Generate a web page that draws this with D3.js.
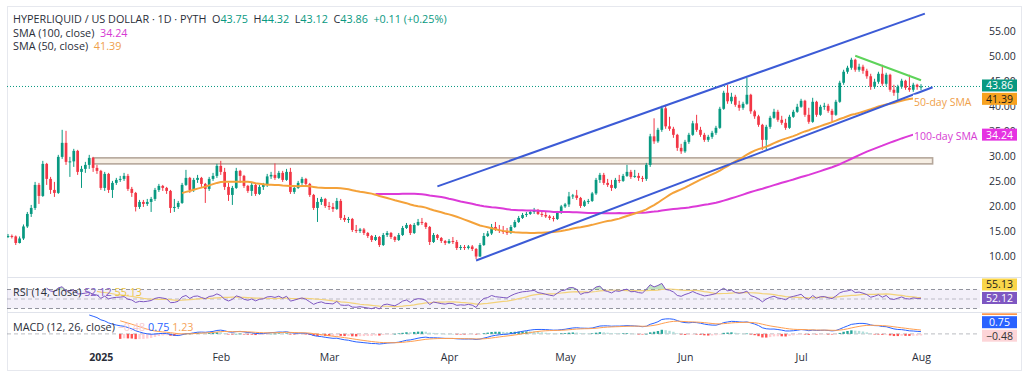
<!DOCTYPE html>
<html><head><meta charset="utf-8">
<script src="https://cdn.jsdelivr.net/npm/d3@7"></script>
<style>body{margin:0;background:#fff;} svg{display:block;font-family:"Open Sans",sans-serif;}</style>
</head><body><svg id="c" width="1024" height="375"></svg>
<script>
// ---------------- DATA ----------------
const startDate = "2024-12-04";   // first bar (first 4 bars are left of the view)
const viewStart = "2024-12-08";
const viewEnd = "2025-08-01";
const firstOpen = 12.9;
const closes = [
13.3,14.2,13.6,13.9,
14.0,13.9,12.6,13.5,15.9,18.4,19.6,24.2,22.0,28.4,
25.4,23.2,22.6,29.8,32.6,28.8,28.9,31.0,26.8,27.4,
28.2,29.6,27.6,27.0,23.6,26.4,23.2,24.6,25.2,25.4,
26.0,23.4,22.6,19.8,20.8,20.4,20.8,21.4,23.2,24.0,
23.6,23.0,19.6,19.8,20.6,24.2,25.6,23.2,25.2,25.6,
24.4,23.4,25.4,26.0,28.0,26.8,23.8,22.2,23.6,27.0,
26.0,24.0,23.0,24.2,22.4,23.8,24.2,25.9,26.2,25.6,
26.6,25.2,26.8,22.8,23.6,24.6,25.4,24.4,22.2,19.6,
20.8,21.4,20.0,19.8,19.4,21.0,17.6,17.2,17.4,15.2,
15.0,15.3,14.6,14.0,13.2,13.8,12.2,14.2,14.6,13.8,
13.2,14.2,15.6,16.2,14.6,16.2,16.8,16.6,15.8,12.8,
14.2,13.6,13.0,12.6,13.0,12.8,11.6,11.8,11.6,11.9,
11.4,9.9,12.2,14.0,14.5,15.8,15.2,15.0,14.8,14.6,
15.8,16.8,17.6,18.2,18.4,18.8,19.1,18.4,18.2,17.9,
17.6,17.4,18.6,19.9,20.3,21.9,22.1,21.6,20.0,20.9,
21.0,22.5,25.2,26.2,24.6,24.2,23.6,25.2,25.0,26.0,
26.8,25.8,26.0,25.6,25.4,28.2,33.9,32.9,35.2,39.5,
35.9,35.4,34.2,31.6,30.9,32.8,34.2,36.5,35.2,34.2,
33.2,33.8,34.6,35.6,39.4,42.6,40.9,41.8,40.2,39.6,
40.4,42.2,38.9,37.9,36.2,33.2,35.8,37.6,38.8,37.2,
36.6,35.6,37.8,38.8,39.8,41.0,38.2,36.8,40.8,38.2,
39.8,40.0,39.0,38.2,40.8,44.6,46.8,47.6,49.2,47.2,
47.8,47.0,45.9,43.8,44.8,46.4,44.4,46.2,43.2,42.6,
43.8,45.0,43.6,43.2,44.2,43.75,43.86];
const highs = [
14.0,14.8,14.4,14.3,
14.4,14.3,14.1,13.9,16.3,18.8,20.2,24.8,24.6,29.0,
28.6,25.8,24.8,30.2,35.2,35.0,29.8,31.4,31.2,28.0,
28.8,30.2,29.8,28.2,27.2,26.8,26.6,25.0,25.6,26.0,
26.6,26.4,23.8,22.8,21.2,21.2,21.4,21.8,23.6,24.4,
24.2,23.8,23.2,21.4,21.0,24.6,27.2,25.8,25.6,26.2,
25.8,24.6,25.8,26.6,28.4,29.0,27.6,24.6,24.0,27.6,
27.2,26.2,24.2,24.6,24.4,24.2,24.6,26.4,26.8,28.5,
27.0,27.0,27.4,27.6,24.0,25.0,25.8,25.6,24.6,22.4,
21.6,21.8,21.6,20.8,20.6,21.6,21.4,18.2,17.8,17.6,
16.2,15.6,15.6,14.8,14.2,14.2,14.0,14.6,15.0,14.8,
14.0,14.6,16.0,16.6,16.4,16.6,17.4,17.6,16.8,16.0,
14.6,14.4,13.8,13.2,13.4,13.8,13.2,12.2,12.2,12.2,
12.2,11.6,12.6,14.6,15.0,16.4,16.8,16.2,16.0,15.6,
16.2,17.2,18.0,18.6,18.8,19.2,19.6,19.4,18.9,18.8,
18.2,18.0,19.0,20.2,20.6,22.8,22.4,23.2,21.8,21.2,
21.4,22.8,25.6,26.6,26.6,25.4,25.2,25.6,26.2,26.4,
28.2,27.2,27.2,26.6,26.0,28.6,34.4,37.5,35.6,40.0,
40.2,37.8,35.8,34.4,32.4,33.2,34.6,37.0,38.2,35.8,
34.6,34.2,35.0,36.0,39.8,43.0,44.2,42.6,42.2,41.0,
40.8,45.6,42.4,39.2,38.2,36.4,36.2,38.0,39.4,39.2,
38.0,37.4,38.2,39.2,40.4,41.4,41.2,39.6,41.6,41.0,
40.2,40.6,40.4,39.4,41.2,45.0,47.2,48.0,49.6,49.4,
48.4,48.2,47.4,46.4,45.4,46.8,48.2,46.6,46.4,44.2,
44.2,45.4,45.2,46.2,44.6,44.4,44.32];
const lows = [
12.6,13.1,13.0,13.3,
13.6,13.5,12.2,12.5,13.2,15.6,17.8,19.2,20.4,21.8,
24.2,22.4,21.8,22.4,29.4,28.2,25.8,27.8,26.2,23.6,
26.6,27.4,26.8,26.4,23.2,23.0,22.6,21.6,24.2,24.8,
25.0,23.0,21.8,18.9,19.4,19.8,20.0,18.8,21.0,22.8,
23.0,22.4,18.6,18.8,19.4,20.4,24.0,22.6,22.8,24.6,
23.8,20.6,23.0,25.0,25.6,26.2,23.2,21.0,20.2,23.4,
24.6,23.6,22.6,22.0,22.0,22.2,23.2,23.8,25.4,25.2,
25.4,24.8,25.0,22.4,22.4,23.4,24.2,24.0,21.8,19.2,
16.8,20.2,19.6,19.2,18.8,19.2,17.2,16.8,16.6,14.8,
14.6,14.6,14.2,13.6,12.8,13.0,11.8,12.0,13.8,13.4,
12.8,13.0,14.0,15.4,14.2,14.4,16.0,16.2,15.4,12.2,
12.6,13.2,12.6,12.2,12.4,12.4,11.2,11.2,11.2,11.3,
11.0,9.4,9.8,12.0,13.8,14.2,15.0,14.6,14.4,14.2,
14.4,15.6,16.6,17.4,17.8,18.2,18.4,18.2,17.8,17.6,
17.2,16.9,17.2,18.4,19.6,19.8,21.4,21.2,19.6,19.8,
20.4,20.8,22.2,24.6,24.2,23.8,23.0,23.4,24.6,24.8,
25.8,25.4,25.6,25.0,24.8,25.0,27.8,32.4,32.6,34.8,
35.4,35.0,33.6,31.0,30.4,30.6,32.4,34.0,34.8,33.8,
32.8,32.8,33.4,34.2,35.4,39.2,40.4,40.4,39.8,39.0,
39.2,40.2,38.4,37.4,35.8,31.2,31.2,35.4,37.4,36.8,
36.2,35.2,35.4,37.6,38.6,39.6,37.8,36.4,36.6,37.8,
38.0,39.2,38.6,36.8,38.0,40.6,44.2,46.4,47.2,46.8,
46.8,46.4,45.4,43.2,43.4,44.4,44.0,44.0,42.8,42.0,
41.2,43.4,43.2,42.8,42.8,43.2,43.12];

const priceTicks = [10,15,20,25,30,35,40,45,50,55];
const monthTicks = ["2025-01-01","2025-02-01","2025-03-01","2025-04-01","2025-05-01","2025-06-01","2025-07-01","2025-08-01"];
const monthLabels = ["2025","Feb","Mar","Apr","May","Jun","Jul","Aug"];

const channelUpper = [["2025-03-29",23.9],["2025-08-02",58.4]];
const channelLower = [["2025-04-08",9.1],["2025-08-04",43.7]];
const triangleTop  = [["2025-07-15",50.0],["2025-08-01",45.1]];
const zoneDates  = ["2024-12-30","2025-08-04"];
const zonePrices = [29.6,28.4];

const titleText = "HYPERLIQUID / US DOLLAR · 1D · PYTH";
const ohlcKeys = ["O","H","L","C"];
const ohlcVals = ["43.75","44.32","43.12","43.86"];
const changeText = "+0.11 (+0.25%)";
const lastPrice = 43.86, sma100Last = 34.24, sma50Last = 41.39;
const rsiLast = 52.12, rsiMaLast = 55.13;
const macdLast = 0.75, signalLast = 1.23, histLast = -0.48;

// ---------------- SETUP ----------------
const svg = d3.select("#c");
const parse = d3.utcParse("%Y-%m-%d");
const n = Math.min(closes.length, highs.length, lows.length);
const t0 = parse(startDate);
const bars = d3.range(n).map(k => ({date: d3.utcDay.offset(t0, k), o: k ? closes[k-1] : firstOpen, h: highs[k], l: lows[k], c: closes[k]}));
const firstVis = bars.findIndex(b => b.date >= parse(viewStart));

const L = 7, R = 980, T = 6;
const main = {top: 6, bot: 277}, rsiP = {top: 278, bot: 312}, macdP = {top: 313, bot: 346};

const x = d3.scaleUtc().domain([parse(viewStart), parse(viewEnd)]).range([8, 921]);
const y = d3.scaleLinear().domain([10, 55]).range([256, 30.7]);

const UP = "#089981", DN = "#F23645";
const LFS = 10.8;

// defs / clips
const defs = svg.append("defs");
function clip(id, x0, y0, w, h){ defs.append("clipPath").attr("id", id).append("rect").attr("x", x0).attr("y", y0).attr("width", w).attr("height", h); }
clip("cMain", L, main.top, R-L, main.bot-main.top);
clip("cRsi", L, rsiP.top, R-L, rsiP.bot-rsiP.top);
clip("cMacd", L, macdP.top, R-L, macdP.bot-macdP.top);
clip("cRsiAx", R, rsiP.top, 1024-R, rsiP.bot-rsiP.top);
clip("cMacdAx", R, macdP.top+0.5, 1024-R, macdP.bot-macdP.top);

// frame
svg.append("rect").attr("x", L+0.5).attr("y", T+0.5).attr("width", 1021-L).attr("height", 370-T).attr("fill", "none").attr("stroke", "#E6E8EE");
[main.bot+0.5, rsiP.bot+0.5].forEach(v => svg.append("line").attr("x1", L).attr("x2", 1021).attr("y1", v).attr("y2", v).attr("stroke", "#E0E3EB"));

// ---------------- indicators ----------------
function sma(arr, len){ return arr.map((v,i) => { if (i < len-1) return null; let s = 0; for (let j=i-len+1;j<=i;j++){ if (arr[j]==null) return null; s+=arr[j]; } return s/len; }); }
function ema(arr, len){ const out = arr.map(()=>null); const a = 2/(len+1); let start = arr.findIndex(v => v!=null); if (start<0) return out;
  let idx = start+len-1; if (idx>=arr.length) return out; let s=0; for (let j=start;j<=idx;j++) s+=arr[j]; out[idx]=s/len;
  for (let i=idx+1;i<arr.length;i++) out[i] = a*arr[i] + (1-a)*out[i-1]; return out; }
function rsi(arr, len){ const out = arr.map(()=>null); let g=0,l=0;
  for (let i=1;i<=len;i++){ const d=arr[i]-arr[i-1]; g+=Math.max(d,0); l+=Math.max(-d,0);} g/=len; l/=len;
  out[len] = l===0?100:100-100/(1+g/l);
  for (let i=len+1;i<arr.length;i++){ const d=arr[i]-arr[i-1]; g=(g*(len-1)+Math.max(d,0))/len; l=(l*(len-1)+Math.max(-d,0))/len; out[i]= l===0?100:100-100/(1+g/l);} return out; }

const cl = bars.map(b => b.c);
const sma50 = sma(cl, 50), sma100 = sma(cl, 100);
const rsiV = rsi(cl, 14);
const rsiMA = sma(rsiV, 14);
const e12 = ema(cl, 12), e26 = ema(cl, 26);
const macd = cl.map((v,i) => (e12[i]!=null && e26[i]!=null) ? e12[i]-e26[i] : null);
const sig = ema(macd, 9);
const hist = macd.map((v,i) => (v!=null && sig[i]!=null) ? v - sig[i] : null);

// ---------------- MAIN PANE ----------------
const gm = svg.append("g").attr("clip-path", "url(#cMain)");
gm.append("rect").attr("x", x(parse(zoneDates[0]))).attr("y", y(zonePrices[0]))
  .attr("width", x(parse(zoneDates[1])) - x(parse(zoneDates[0]))).attr("height", y(zonePrices[1]) - y(zonePrices[0]))
  .attr("fill", "#F6EEE3").attr("stroke", "#B5A79B").attr("stroke-width", 1.6);

gm.append("line").attr("x1", L).attr("x2", R+2).attr("y1", y(lastPrice)).attr("y2", y(lastPrice))
  .attr("stroke", UP).attr("stroke-dasharray", "1,2").attr("stroke-width", 1);

const cw = 2.7;
const cg = gm.append("g");
bars.forEach(b => {
  const col = b.c >= b.o ? UP : DN; const cx = x(b.date);
  cg.append("line").attr("x1", cx).attr("x2", cx).attr("y1", y(b.h)).attr("y2", y(b.l)).attr("stroke", col).attr("stroke-width", 1);
  const top = y(Math.max(b.o, b.c)), bot = y(Math.min(b.o, b.c));
  cg.append("rect").attr("x", cx - cw/2).attr("y", top).attr("width", cw).attr("height", Math.max(1, bot-top)).attr("fill", col);
});

const lineGen = (arr, sc) => d3.line().defined(d => arr[d]!=null).x(d => x(bars[d].date)).y(d => sc(arr[d]));
const idx = d3.range(n);
gm.append("path").attr("d", lineGen(sma100, y)(idx)).attr("fill", "none").attr("stroke", "#DC3AD8").attr("stroke-width", 2);
gm.append("path").attr("d", lineGen(sma50, y)(idx)).attr("fill", "none").attr("stroke", "#F4A23A").attr("stroke-width", 2);

function seg(pts, col){ gm.append("line").attr("x1", x(parse(pts[0][0]))).attr("y1", y(pts[0][1])).attr("x2", x(parse(pts[1][0]))).attr("y2", y(pts[1][1])).attr("stroke", col).attr("stroke-width", 2); }
seg(channelUpper, "#3C5BD6");
seg(channelLower, "#3C5BD6");
seg(triangleTop, "#5ED35A");

function note(txt, xx, yy, col){ const t = svg.append("text").attr("x", xx).attr("y", yy).attr("font-size", 10.5).attr("fill", col).attr("dominant-baseline", "central").text(txt);
  const bb = t.node().getBBox(); svg.insert("rect", () => t.node()).attr("x", bb.x-1).attr("y", bb.y).attr("width", bb.width+2).attr("height", bb.height).attr("fill", "#fff"); }
note("50-day SMA", 914, 101.7, "#EFA04A");
note("100-day SMA", 914, 135.7, "#D63BD3");

const pax = svg.append("g").attr("transform", `translate(985,0)`).call(d3.axisRight(y).tickValues(priceTicks).tickFormat(d3.format(".2f")).tickSize(0).tickPadding(4));
pax.select(".domain").remove();
pax.selectAll("text").attr("font-size", 10.5).attr("fill", "#2A2E39").attr("font-family", "Open Sans, sans-serif");

function tag(g, val, yy, bg, fg){ g.append("rect").attr("x", 982).attr("y", yy-6).attr("width", 35).attr("height", 12).attr("fill", bg);
  g.append("text").attr("x", 999.5).attr("y", yy).attr("text-anchor", "middle").attr("dominant-baseline", "central").attr("font-size", 10.5).attr("fill", fg).text(val); }
const tg = svg.append("g");
tag(tg, sma100Last.toFixed(2), y(sma100Last), "#E532E2", "#fff");
tag(tg, sma50Last.toFixed(2), y(sma50Last), "#F7A21F", "#1A1A1A");
tag(tg, lastPrice.toFixed(2), y(lastPrice)-1, "#089981", "#fff");

function legend(xx, yy, parts, fs){ const t = svg.append("text").attr("x", xx).attr("y", yy).attr("font-size", fs).attr("dominant-baseline", "central");
  parts.forEach(p => t.append("tspan").attr("fill", p[1]).text(p[0])); return t; }
const lp = [[titleText + "  ", "#2A2E39"]];
ohlcKeys.forEach((k,i) => { lp.push([k, "#2A2E39"]); lp.push([ohlcVals[i] + "  ", UP]); });
lp.push([changeText, UP]);
legend(13, 17.5, lp, LFS).attr("xml:space", "preserve");
legend(13, 32.3, [["SMA (100, close)  ", "#2A2E39"], [sma100Last.toFixed(2), "#D63BD3"]], LFS).attr("xml:space", "preserve");
legend(13, 44.5, [["SMA (50, close)  ", "#2A2E39"], [sma50Last.toFixed(2), "#EFA04A"]], LFS).attr("xml:space", "preserve");

// ---------------- RSI PANE ----------------
const yr = d3.scaleLinear().domain([30, 70]).range([308.5, 289.5]);
const gr = svg.append("g").attr("clip-path", "url(#cRsi)");
gr.append("rect").attr("x", L).attr("y", yr(70)).attr("width", R-L).attr("height", yr(30)-yr(70)).attr("fill", "rgba(126,87,194,0.09)");
[70, 50, 30].forEach(v => gr.append("line").attr("x1", L).attr("x2", R).attr("y1", yr(v)).attr("y2", yr(v)).attr("stroke", "#787B86").attr("stroke-opacity", v===50?0.45:0.8).attr("stroke-dasharray", "4,3"));
gr.append("path").datum(idx.filter(i => rsiV[i]!=null)).attr("d", d3.area().x(i => x(bars[i].date)).y0(yr(70)).y1(i => yr(Math.max(70, rsiV[i])))).attr("fill", "rgba(76,175,80,0.35)");
gr.append("path").datum(idx.filter(i => rsiV[i]!=null)).attr("d", d3.area().x(i => x(bars[i].date)).y0(yr(30)).y1(i => yr(Math.min(30, rsiV[i])))).attr("fill", "rgba(242,54,69,0.3)");
gr.append("path").attr("d", lineGen(rsiMA, yr)(idx)).attr("fill", "none").attr("stroke", "#F3D27A").attr("stroke-width", 1.2);
gr.append("path").attr("d", lineGen(rsiV, yr)(idx)).attr("fill", "none").attr("stroke", "#7E57C2").attr("stroke-width", 1);

legend(13, 290.5, [["RSI (14, close) ", "#2A2E39"], [rsiLast.toFixed(2) + " ", "#7E57C2"], [rsiMaLast.toFixed(2), "#E9C33F"]], LFS).attr("xml:space", "preserve");

function stack(items, h){ items.sort((a,b) => b.y - a.y); for (let i=1;i<items.length;i++) if (items[i].y > items[i-1].y - h) items[i].y = items[i-1].y - h; return items; }
const rg = svg.append("g").attr("clip-path", "url(#cRsiAx)");
const rItems = stack([{v: rsiLast, y: yr(rsiLast), bg: "#7E57C2", fg: "#fff"}, {v: rsiMaLast, y: yr(rsiMaLast), bg: "#F9D54A", fg: "#1A1A1A"}], 13.5);
rItems.slice().reverse().forEach(it => tag(rg, it.v.toFixed(2), it.y, it.bg, it.fg));

// ---------------- MACD PANE ----------------
const vis = idx.filter(i => i >= firstVis);
const mv = [];
vis.forEach(i => { [macd[i], sig[i], hist[i]].forEach(v => { if (v!=null) mv.push(v); }); });
const ym = d3.scaleLinear().domain(d3.extent(mv)).range([344, 315]);
const gmc = svg.append("g").attr("clip-path", "url(#cMacd)");
gmc.append("line").attr("x1", L).attr("x2", R).attr("y1", ym(0)).attr("y2", ym(0)).attr("stroke", "#787B86").attr("stroke-opacity", 0.5).attr("stroke-dasharray", "4,3");
idx.forEach(i => { const h = hist[i]; if (h==null) return; const p = hist[i-1];
  const col = h >= 0 ? ((p!=null && h < p) ? "#B2DFDB" : "#26A69A") : ((p!=null && h > p) ? "#FFCDD2" : "#FF5252");
  const y0 = ym(0), y1 = ym(h);
  gmc.append("rect").attr("x", x(bars[i].date) - 1.2).attr("y", Math.min(y0, y1)).attr("width", 2.4).attr("height", Math.max(0.6, Math.abs(y1-y0))).attr("fill", col); });
gmc.append("path").attr("d", lineGen(macd, ym)(idx)).attr("fill", "none").attr("stroke", "#2962FF").attr("stroke-width", 1);
gmc.append("path").attr("d", lineGen(sig, ym)(idx)).attr("fill", "none").attr("stroke", "#FF9F50").attr("stroke-width", 1);

legend(13, 325.7, [["MACD (12, 26, close) ", "#2A2E39"], ["\u22120.48 ", "#F7C9CF"], [macdLast.toFixed(2) + " ", "#2962FF"], [signalLast.toFixed(2), "#F5A45A"]], LFS).attr("xml:space", "preserve");

const mg = svg.append("g").attr("clip-path", "url(#cMacdAx)");
const mItems = stack([
  {v: histLast, y: ym(histLast), bg: "#FDD5D8", fg: "#333", txt: "\u22120.48"},
  {v: macdLast, y: ym(macdLast), bg: "#2962FF", fg: "#fff"},
  {v: signalLast, y: ym(signalLast), bg: "#FF6D00", fg: "#fff"}], 13.5);
mItems.slice().reverse().forEach(it => tag(mg, it.txt || it.v.toFixed(2), it.y, it.bg, it.fg));

// ---------------- TIME AXIS ----------------
const xa = svg.append("g").attr("transform", "translate(0,352)")
  .call(d3.axisBottom(x).tickValues(monthTicks.map(parse)).tickFormat((d,i) => monthLabels[i]).tickSize(0).tickPadding(0));
xa.select(".domain").remove();
xa.selectAll("text").attr("font-size", 10.5).attr("fill", "#2A2E39").attr("font-family", "Open Sans, sans-serif")
  .attr("font-weight", (d,i) => i === 0 ? "bold" : "normal").attr("dy", "0.9em");
</script></body></html>
